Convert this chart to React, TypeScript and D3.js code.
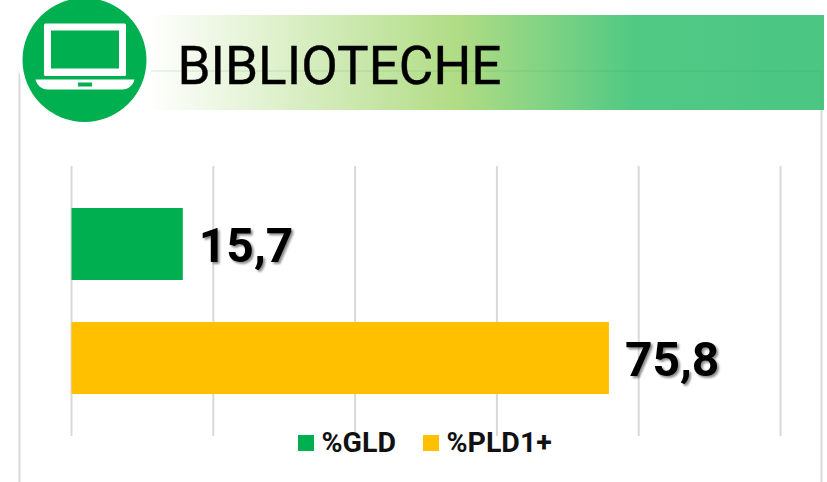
import React from "react";
import * as d3 from "d3";

const categories = ["%GLD", "%PLD1+"];
const values = [15.7, 75.8];
const valueLabels = ["15,7", "75,8"];
const colors = ["#00B050", "#FFC000"];
const ticks = [0, 20, 40, 60, 80, 100];
const title = "BIBLIOTECHE";

const W = 827;
const H = 482;

export default function App() {
  const x = d3.scaleLinear().domain([0, 100]).range([71.5, 780.5]);
  const y = d3.scaleBand().domain(categories).range([187, 415]).paddingInner(42 / 114).paddingOuter(21 / 114);
  const legendX = [298, 423];
  return (
    <svg width={W} height={H} viewBox={`0 0 ${W} ${H}`} style={{ position: "fixed", left: 0, top: 0, display: "block", background: "#fff" }}>
      <defs>
        <linearGradient id="band" gradientUnits="userSpaceOnUse" x1="148" x2="824" y1="0" y2="0">
          <stop offset="0" stopColor="#ffffff" />
          <stop offset="0.46" stopColor="#b0dc84" />
          <stop offset="0.72" stopColor="#50c984" />
          <stop offset="1" stopColor="#4bc783" />
        </linearGradient>
        <filter id="shadow" x="-10%" y="-10%" width="130%" height="130%">
          <feDropShadow dx="2" dy="2" stdDeviation="1.3" floodColor="#000" floodOpacity="0.45" />
        </filter>
      </defs>

      <path d="M19.5 482V71.5H821.5V482" fill="none" stroke="#d9d9d9" strokeWidth={2} />
      <rect x={148} y={15} width={676} height={95} fill="url(#band)" />
      <path d="M148 71H821.5V110" fill="none" stroke="#3a9a50" strokeOpacity={0.1} strokeWidth={2} />

      <circle cx={85} cy={60} r={67} fill="#fff" />
      <circle cx={84.5} cy={60} r={62} fill="#00B050" />
      <rect x={44} y={23.5} width={82} height={52.5} rx={1.5} fill="#fff" />
      <rect x={51} y={30.5} width={68} height={38} fill="#00B050" />
      <path d="M35.5 79.5H134.5C133 85 129 89.5 122 89.5H48C41 89.5 37 85 35.5 79.5Z" fill="#fff" />
      <rect x={78} y={82.5} width={14} height={4} fill="#00B050" />

      <text x={177.5} y={84} fontFamily="Roboto" fontSize={53} fill="#000" stroke="#000" strokeWidth={0.4} textLength={324} lengthAdjust="spacingAndGlyphs">{title}</text>

      {ticks.map((t) => (
        <line key={t} x1={x(t)} x2={x(t)} y1={166} y2={436} stroke="#d9d9d9" strokeWidth={2} />
      ))}

      {categories.map((c, i) => (
        <g key={c}>
          <rect x={x(0)} y={y(c)} width={x(values[i]) - x(0)} height={y.bandwidth()} fill={colors[i]} />
          <text x={x(values[i]) + 16} y={y(c)! + y.bandwidth() / 2 + 18} fontFamily="Roboto" fontWeight={700} fontSize={48} fill="#000" filter="url(#shadow)">{valueLabels[i]}</text>
        </g>
      ))}

      {categories.map((c, i) => (
        <g key={c}>
          <rect x={legendX[i]} y={435} width={16} height={16} fill={colors[i]} />
          <text x={legendX[i] + 23.5} y={452} fontFamily="Roboto" fontWeight={700} fontSize={28.5} fill="#111">{c}</text>
        </g>
      ))}
    </svg>
  );
}
